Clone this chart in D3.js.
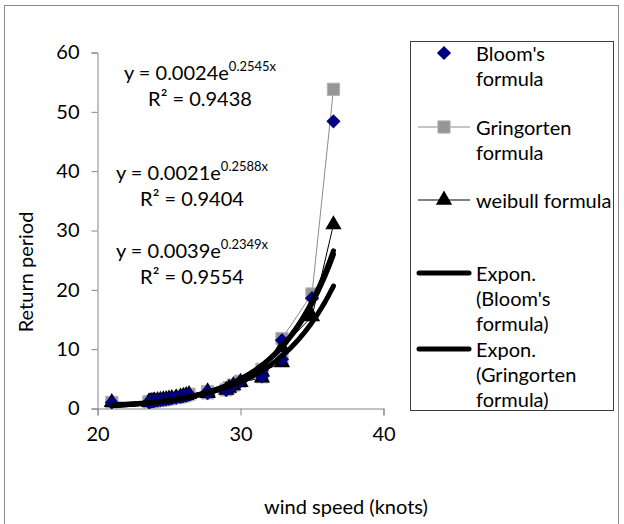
<!DOCTYPE html>
<html>
<head>
<meta charset="utf-8">
<script src="https://cdn.jsdelivr.net/npm/d3@7"></script>
<style>
  body { margin: 0; background: #fff; }
  text { font-family: Lato, "Liberation Sans", sans-serif; fill: #000; }
</style>
</head>
<body>
<script>

// wind speed (knots) for each ranked event, highest first
var windSpeed = [36.5, 35.0, 32.9, 32.9, 31.5, 31.5, 30.0, 29.5, 29.2, 29.0,
                 27.7, 27.7, 26.4, 26.2, 26.0, 25.8, 25.5, 25.2, 25.0, 24.8,
                 24.6, 24.4, 24.2, 24.0, 23.9, 23.8, 23.7, 23.6, 23.6, 21.0];

// return periods
var bloom = [48.4, 18.6, 11.5, 8.3, 6.5, 5.4, 4.6, 4.0, 3.5, 3.1,
             2.85, 2.6, 2.4, 2.2, 2.07, 1.94, 1.82, 1.72, 1.62, 1.54,
             1.47, 1.4, 1.34, 1.28, 1.23, 1.18, 1.14, 1.1, 1.06, 1.02];
var gringorten = [53.8, 19.3, 11.8, 8.4, 6.6, 5.35, 4.6, 3.95, 3.5, 3.15,
                  2.87, 2.62, 2.41, 2.23, 2.08, 1.95, 1.83, 1.72, 1.62, 1.54,
                  1.46, 1.39, 1.33, 1.27, 1.22, 1.17, 1.13, 1.09, 1.06, 1.02];
var weibull = [31.0, 15.5, 10.3, 7.75, 6.2, 5.17, 4.43, 3.88, 3.44, 3.1,
               2.82, 2.58, 2.38, 2.21, 2.07, 1.94, 1.82, 1.72, 1.63, 1.55,
               1.48, 1.41, 1.35, 1.29, 1.24, 1.19, 1.15, 1.11, 1.07, 1.03];

// exponential trendlines: y = a * e^(b x)  (Bloom, Gringorten, Weibull)
var trendA = [0.0024, 0.0021, 0.0039];
var trendB = [0.2545, 0.2588, 0.2349];
var trendR2 = ["0.9438", "0.9404", "0.9554"];

var xTicks = [20, 30, 40];
var yTicks = [0, 10, 20, 30, 40, 50, 60];

var width = 624, height = 524;

var svg = d3.select("body").append("svg")
    .attr("width", width)
    .attr("height", height);

// chart area frame
svg.append("rect")
    .attr("x", 4.5).attr("y", 5.5)
    .attr("width", 614).attr("height", 540)
    .style("fill", "#fff")
    .style("stroke", "#8a8a8a")
    .style("stroke-width", 1);

var x = d3.scaleLinear().domain([20, 40]).range([97.5, 383.5]);
var y = d3.scaleLinear().domain([0, 60]).range([408.5, 52.5]);

// axes
var xAxis = svg.append("g")
    .attr("transform", "translate(0," + y(0) + ")")
    .call(d3.axisBottom(x).tickValues(xTicks).tickSize(7).tickPadding(11).tickFormat(d3.format("d")));
var yAxis = svg.append("g")
    .attr("transform", "translate(" + x(20) + ",0)")
    .call(d3.axisLeft(y).tickValues(yTicks).tickSize(6).tickPadding(12).tickFormat(d3.format("d")));

[xAxis, yAxis].forEach(function(g) {
  g.select(".domain").style("stroke", "#868686");
  g.selectAll(".tick line").style("stroke", "#868686");
  g.selectAll(".tick text").style("font-size", "20px").style("font-family", "Lato, sans-serif").style("fill", "#000");
});

// axis titles
svg.append("text")
    .attr("transform", "translate(33,272) rotate(-90)")
    .attr("text-anchor", "middle")
    .style("font-size", "20px")
    .text("Return period");
svg.append("text")
    .attr("x", 346).attr("y", 514)
    .attr("text-anchor", "middle")
    .style("font-size", "20px")
    .text("wind speed (knots)");

var plot = svg.append("g");

var line = d3.line()
    .x(function(d) { return x(d[0]); })
    .y(function(d) { return y(d[1]); });

function pairs(vals) {
  return windSpeed.map(function(w, i) { return [w, vals[i]]; });
}

// series lines
plot.append("path")
    .datum(pairs(gringorten))
    .attr("d", line)
    .style("fill", "none").style("stroke", "#8c8c8c").style("stroke-width", 1);
plot.append("path")
    .datum(pairs(weibull))
    .attr("d", line)
    .style("fill", "none").style("stroke", "#000").style("stroke-width", 1);

// markers (diamond = square turned 45 degrees)
var sq = d3.symbol().type(d3.symbolSquare).size(150);
var tri = d3.symbol().type(d3.symbolTriangle).size(115);
var dia = d3.symbol().type(d3.symbolSquare).size(100);

plot.selectAll(".gri")
    .data(pairs(gringorten))
  .enter().append("path")
    .attr("class", "gri")
    .attr("transform", function(d) { return "translate(" + x(d[0]) + "," + y(d[1]) + ")"; })
    .attr("d", sq)
    .style("fill", "#969696").style("stroke", "#b4b4b4").style("stroke-width", 1);

plot.selectAll(".wei")
    .data(pairs(weibull))
  .enter().append("path")
    .attr("class", "wei")
    .attr("transform", function(d) { return "translate(" + x(d[0]) + "," + y(d[1]) + ")"; })
    .attr("d", tri)
    .style("fill", "#000");

plot.selectAll(".blo")
    .data(pairs(bloom))
  .enter().append("path")
    .attr("class", "blo")
    .attr("transform", function(d) { return "translate(" + x(d[0]) + "," + y(d[1]) + ") rotate(45)"; })
    .attr("d", dia)
    .style("fill", "#000080");

// trendlines over the data range
var xmin = d3.min(windSpeed), xmax = d3.max(windSpeed);
var steps = d3.range(xmin, xmax + 0.001, 0.1);
trendA.forEach(function(a, k) {
  var pts = steps.map(function(v) { return [v, a * Math.exp(trendB[k] * v)]; });
  plot.append("path")
      .datum(pts)
      .attr("d", line)
      .style("fill", "none").style("stroke", "#000")
      .style("stroke-width", 5).style("stroke-linecap", "round");
});

// equation labels
var eqPos = [[200, 72], [192, 172], [192, 250]];
trendA.forEach(function(a, k) {
  var t = svg.append("text")
      .attr("x", eqPos[k][0]).attr("y", eqPos[k][1])
      .attr("text-anchor", "middle")
      .attr("dominant-baseline", "central")
      .style("font-size", "20px");
  t.append("tspan").text("y = " + a.toFixed(4) + "e");
  t.append("tspan").attr("dy", -6).style("font-size", "13px").text(trendB[k].toFixed(4) + "x");
  svg.append("text")
      .attr("x", eqPos[k][0]).attr("y", eqPos[k][1] + 26)
      .attr("text-anchor", "middle")
      .attr("dominant-baseline", "central")
      .style("font-size", "20px")
      .text("R\u00b2 = " + trendR2[k]);
});

// legend
var legend = svg.append("g");
legend.append("rect")
    .attr("x", 410.5).attr("y", 41.5)
    .attr("width", 203).attr("height", 369)
    .style("fill", "#fff").style("stroke", "#3c3c3c").style("stroke-width", 1);

var legendItems = [
  { lines: ["Bloom's", "formula"], y: 53, kind: "dia" },
  { lines: ["Gringorten", "formula"], y: 127, kind: "sq" },
  { lines: ["weibull formula"], y: 200, kind: "tri" },
  { lines: ["Expon.", "(Bloom's", "formula)"], y: 273, kind: "trend" },
  { lines: ["Expon.", "(Gringorten", "formula)"], y: 349, kind: "trend" }
];

legendItems.forEach(function(it) {
  if (it.kind == "sq") {
    legend.append("line").attr("x1", 418).attr("x2", 470).attr("y1", it.y).attr("y2", it.y)
        .style("stroke", "#8c8c8c").style("stroke-width", 1);
    legend.append("path").attr("transform", "translate(444," + it.y + ")").attr("d", sq)
        .style("fill", "#969696").style("stroke", "#b4b4b4");
  } else if (it.kind == "tri") {
    legend.append("line").attr("x1", 418).attr("x2", 470).attr("y1", it.y).attr("y2", it.y)
        .style("stroke", "#000").style("stroke-width", 1);
    legend.append("path").attr("transform", "translate(444," + it.y + ")").attr("d", tri)
        .style("fill", "#000");
  } else if (it.kind == "dia") {
    legend.append("path").attr("transform", "translate(444," + it.y + ") rotate(45)").attr("d", dia)
        .style("fill", "#000080");
  } else {
    legend.append("line").attr("x1", 419).attr("x2", 469).attr("y1", it.y).attr("y2", it.y)
        .style("stroke", "#000").style("stroke-width", 5).style("stroke-linecap", "round");
  }
  it.lines.forEach(function(s, j) {
    legend.append("text")
        .attr("x", 476).attr("y", it.y + j * 25)
        .attr("dominant-baseline", "central")
        .style("font-size", "20px")
        .text(s);
  });
});

</script>
</body>
</html>
